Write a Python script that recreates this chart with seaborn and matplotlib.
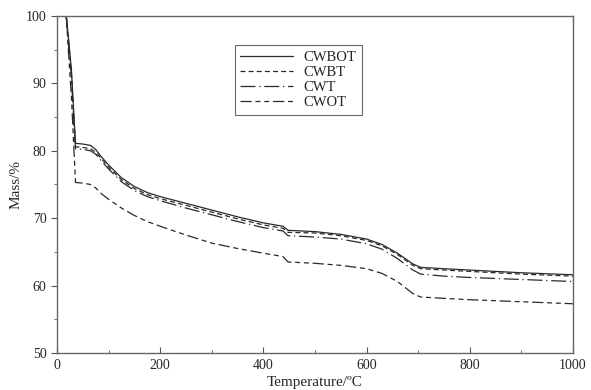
import numpy as np
import pandas as pd
import seaborn as sns
import matplotlib.pyplot as plt
from matplotlib.ticker import MultipleLocator

temperature = [18, 22, 28, 33, 36, 50, 65, 75, 85, 100, 125, 150, 175, 200, 250, 300,
               350, 400, 438, 448, 500, 550, 600, 630, 660, 690, 705, 750, 800, 900, 1000]

cwbot = [100, 97, 92, 85, 81.1, 81.0, 80.8, 80.2, 79.2, 77.9, 76.0, 74.7, 73.8, 73.2, 72.2, 71.2,
         70.2, 69.3, 68.8, 68.2, 68.0, 67.6, 66.9, 66.1, 64.8, 63.2, 62.7, 62.5, 62.3, 61.9, 61.6]
cwbt = [100, 96.5, 91.5, 84.5, 80.6, 80.5, 80.3, 79.8, 78.9, 77.6, 75.7, 74.4, 73.5, 72.9, 71.9, 70.9,
        69.9, 69.0, 68.5, 67.9, 67.8, 67.4, 66.7, 65.9, 64.6, 63.0, 62.5, 62.3, 62.1, 61.7, 61.4]
cwt = [100, 96, 91, 84, 80.3, 80.2, 80.0, 79.5, 78.6, 77.3, 75.4, 74.1, 73.2, 72.6, 71.5, 70.5,
       69.5, 68.6, 68.1, 67.4, 67.2, 66.9, 66.2, 65.4, 64.0, 62.3, 61.7, 61.4, 61.2, 60.9, 60.6]
cwot = [100, 95, 88, 80, 75.3, 75.2, 75.0, 74.5, 73.7, 72.8, 71.5, 70.4, 69.5, 68.8, 67.5, 66.3,
        65.5, 64.8, 64.3, 63.5, 63.3, 63.0, 62.5, 61.8, 60.6, 58.8, 58.3, 58.1, 57.9, 57.6, 57.3]

series = {"CWBOT": cwbot, "CWBT": cwbt, "CWT": cwt, "CWOT": cwot}
frames = [pd.DataFrame({"T": temperature, "mass": v, "sample": k}) for k, v in series.items()]
data = pd.concat(frames, ignore_index=True)

sns.set_style("ticks")
plt.rcParams["font.family"] = ["Liberation Serif", "DejaVu Serif"]

fig = plt.figure(figsize=(5.91, 3.90), dpi=100)
ax = fig.add_axes([0.0964, 0.095, 0.873, 0.864])

dashes = {"CWBOT": "", "CWBT": (4, 2.5), "CWT": (12, 3, 1, 3), "CWOT": (9, 3, 4, 3, 4, 3)}
palette = {k: "#2a2a2a" for k in series}
sns.lineplot(data=data, x="T", y="mass", hue="sample", style="sample",
             palette=palette, dashes=dashes, linewidth=0.9, ax=ax)

ax.set_xlim(0, 1000)
ax.set_ylim(50, 100)
ax.xaxis.set_major_locator(MultipleLocator(200))
ax.xaxis.set_minor_locator(MultipleLocator(100))
ax.yaxis.set_major_locator(MultipleLocator(10))
ax.yaxis.set_minor_locator(MultipleLocator(5))
ax.tick_params(axis="x", which="both", direction="in", labelsize=10, pad=4, color="#555555")
ax.tick_params(axis="y", which="both", direction="out", labelsize=10, color="#555555")
ax.tick_params(which="major", length=4)
ax.tick_params(which="minor", length=2.5)
for s in ax.spines.values():
    s.set_color("#666666")
    s.set_linewidth(1.0)

ax.set_xlabel("Temperature/\u00baC", fontsize=11, labelpad=3)
ax.set_ylabel("Mass/%", fontsize=11, labelpad=2)

leg = ax.legend(loc="upper left", bbox_to_anchor=(0.33, 0.935), fontsize=10.5,
                handlelength=3.6, frameon=True, fancybox=False, edgecolor="#444444",
                borderpad=0.4, labelspacing=0.12, handletextpad=0.75)
leg.get_frame().set_linewidth(0.8)

fig.savefig("out.png", dpi=100)
